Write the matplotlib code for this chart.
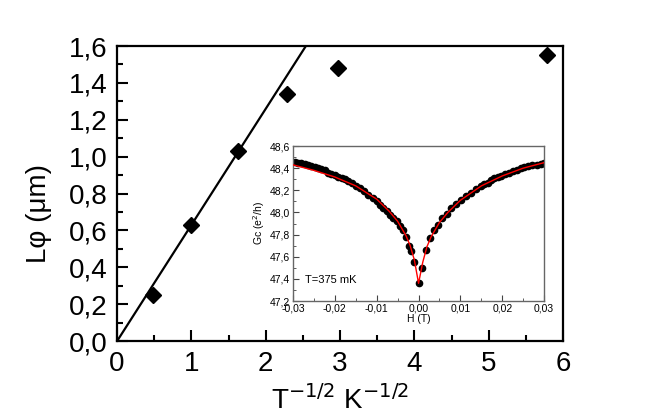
import numpy as np
import matplotlib
matplotlib.use('Agg')
import matplotlib.pyplot as plt

plt.rcParams['font.family'] = ['Liberation Sans', 'DejaVu Sans']

# main panel: L_phi vs T^-1/2
x_main = [0.49, 0.99, 1.63, 2.29, 2.97, 5.79]
y_main = [0.25, 0.63, 1.03, 1.34, 1.48, 1.55]
x_line = [0.0, 2.54]
y_line = [0.0, 1.60]
x_ticks = [0, 1, 2, 3, 4, 5, 6]
y_ticks = [0.0, 0.2, 0.4, 0.6, 0.8, 1.0, 1.2, 1.4, 1.6]
y_ticklabels = ['0,0', '0,2', '0,4', '0,6', '0,8', '1,0', '1,2', '1,4', '1,6']

# inset: magnetoconductance at T=375 mK
H_pts = [-0.0295, -0.0288, -0.0280, -0.0272, -0.0264, -0.0256, -0.0248, -0.0240,
         -0.0232, -0.0224, -0.0216, -0.0208, -0.0200, -0.0192, -0.0184, -0.0176,
         -0.0168, -0.0160, -0.0150, -0.0140, -0.0130, -0.0120, -0.0110, -0.0100,
         -0.0092, -0.0084, -0.0076, -0.0068, -0.0060, -0.0052, -0.0045, -0.0038,
         -0.0031, -0.0024, -0.0017, -0.0011, 0.0,
         0.0009, 0.0018, 0.0028, 0.0036, 0.0046, 0.0056, 0.0067, 0.0078, 0.0090,
         0.0102, 0.0114, 0.0125, 0.0137, 0.0149, 0.0157, 0.0165, 0.0173, 0.0181,
         0.0189, 0.0197, 0.0207, 0.0217, 0.0226, 0.0236, 0.0244, 0.0252, 0.0262,
         0.0272, 0.0282, 0.0292, 0.0300]
G_pts = [48.46, 48.45, 48.45, 48.44, 48.43, 48.42, 48.41, 48.40,
         48.39, 48.38, 48.36, 48.35, 48.34, 48.32, 48.31, 48.30,
         48.28, 48.27, 48.24, 48.22, 48.19, 48.16, 48.13, 48.10,
         48.07, 48.04, 48.01, 47.98, 47.95, 47.92, 47.88, 47.84,
         47.78, 47.70, 47.65, 47.55, 47.36,
         47.50, 47.66, 47.77, 47.84, 47.89, 47.95, 47.99, 48.04, 48.08,
         48.11, 48.15, 48.18, 48.21, 48.24, 48.26, 48.27, 48.29, 48.31,
         48.32, 48.33, 48.35, 48.36, 48.37, 48.38, 48.40, 48.41, 48.42,
         48.43, 48.43, 48.44, 48.45]
H_fit = [-0.03, -0.025, -0.02, -0.015, -0.01, -0.007, -0.005, -0.003, -0.002, -0.001, 0.0,
         0.001, 0.002, 0.003, 0.005, 0.007, 0.01, 0.015, 0.02, 0.025, 0.03]
G_fit = [48.43, 48.38, 48.32, 48.24, 48.12, 48.01, 47.92, 47.79, 47.70, 47.57, 47.36,
         47.55, 47.69, 47.78, 47.91, 48.00, 48.11, 48.24, 48.33, 48.40, 48.45]
H_ticks = [-0.03, -0.02, -0.01, 0.0, 0.01, 0.02, 0.03]
H_ticklabels = ['-0,03', '-0,02', '-0,01', '0,00', '0,01', '0,02', '0,03']
G_ticks = [47.2, 47.4, 47.6, 47.8, 48.0, 48.2, 48.4, 48.6]
G_ticklabels = ['47,2', '47,4', '47,6', '47,8', '48,0', '48,2', '48,4', '48,6']

fig = plt.figure(figsize=(6.54, 4.09), dpi=100)
ax = fig.add_axes([0.179, 0.166, 0.682, 0.7215])

ax.plot(x_line, y_line, color='black', lw=1.6)
ax.plot(x_main, y_main, 'D', color='black', ms=8.5)
ax.set_xlim(0, 6)
ax.set_ylim(0, 1.6)
ax.set_xticks(x_ticks)
ax.set_xticklabels([str(t) for t in x_ticks])
ax.set_yticks(y_ticks)
ax.set_yticklabels(y_ticklabels)
ax.set_xticks(np.arange(0.5, 6, 1.0), minor=True)
ax.set_yticks(np.arange(0.1, 1.6, 0.2), minor=True)
ax.tick_params(which='both', direction='in', width=1.5, labelsize=20, top=False, right=False)
ax.tick_params(which='major', length=8, pad=7)
ax.tick_params(which='minor', length=4)
for s in ax.spines.values():
    s.set_linewidth(1.6)
ax.set_xlabel('T$^{-1/2}$ K$^{-1/2}$', fontsize=20, labelpad=6)
ax.set_ylabel('L\u03c6 (\u03bcm)', fontsize=20)
ax.yaxis.set_label_coords(-0.146, 0.434)

ins = fig.add_axes([0.448, 0.264, 0.384, 0.379])
ins.plot(H_fit, G_fit, color='red', lw=1.0, zorder=3)
ins.plot(H_pts, G_pts, 'o', color='black', ms=4.5, zorder=2)
ins.set_xlim(-0.03, 0.03)
ins.set_ylim(47.2, 48.6)
ins.set_xticks(H_ticks)
ins.set_xticklabels(H_ticklabels)
ins.set_yticks(G_ticks)
ins.set_yticklabels(G_ticklabels)
ins.set_xticks(np.arange(-0.025, 0.03, 0.01), minor=True)
ins.set_yticks(np.arange(47.3, 48.6, 0.2), minor=True)
ins.tick_params(which='both', direction='in', labelsize=7.5, top=False, right=False,
                color='#444444', pad=2)
ins.tick_params(which='major', length=4)
ins.tick_params(which='minor', length=2)
for s in ins.spines.values():
    s.set_color('#666666')
    s.set_linewidth(1.0)
ins.set_xlabel('H (T)', fontsize=7.5, labelpad=0)
ins.set_ylabel('Gc (e$^2$/h)', fontsize=7.5, labelpad=2)
ins.text(-0.0272, 47.39, 'T=375 mK', fontsize=8, va='center')

fig.savefig('out.png', dpi=100)
